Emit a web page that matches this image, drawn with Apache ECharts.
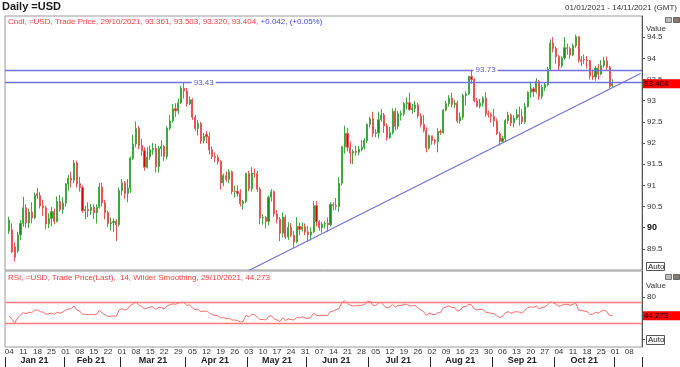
<!DOCTYPE html>
<html><head><meta charset="utf-8">
<script src="https://cdn.jsdelivr.net/npm/echarts@6/dist/echarts.min.js"></script>
<style>html,body{margin:0;padding:0;background:#fff}#c{width:680px;height:367px}</style>
</head><body><div id="c"></div>
<script>
// Daily candles [open, close, low, high]
const jan = [[89.92,90.18,89.85,90.26],[89.95,89.43,89.40,90.10],[89.55,89.30,89.20,89.65],[89.45,89.83,89.40,89.90],[89.83,90.10,89.70,90.18],[90.10,90.47,90.02,90.73],[90.47,90.11,90.00,90.55],[90.11,90.37,89.99,90.45],[90.37,90.23,90.10,90.60],[90.23,90.77,90.20,90.83],[90.80,90.76,90.68,90.94],[90.76,90.51,90.45,90.84],[90.51,90.47,90.28,90.66],[90.47,90.09,89.96,90.52],[90.09,90.22,89.99,90.34],[90.22,90.38,90.03,90.49],[90.38,90.15,90.08,90.45],[90.15,90.62,90.12,90.74],[90.62,90.43,90.38,90.77],[90.43,90.58,90.32,90.72]];
const feb = [[90.58,91.03,90.50,91.05],[91.03,91.17,90.88,91.25],[91.17,91.12,90.95,91.32],[91.12,91.53,91.05,91.60],[91.53,91.04,90.95,91.58],[91.04,90.95,90.85,91.20],[90.95,90.40,90.35,91.00],[90.40,90.43,90.20,90.52],[90.43,90.40,90.25,90.60],[90.40,90.48,90.30,90.56],[90.48,90.35,90.20,90.55],[90.35,90.48,90.10,90.55],[90.48,90.96,90.45,91.06],[90.96,90.59,90.50,91.06],[90.59,90.36,90.20,90.66],[90.36,90.10,90.02,90.40],[90.10,90.12,89.93,90.24],[90.12,90.15,89.90,90.22],[90.15,90.07,89.68,90.20],[90.07,90.88,90.03,90.95]];
const mar = [[90.88,91.06,90.76,91.15],[91.06,90.81,90.68,91.10],[90.81,90.93,90.60,91.15],[90.93,91.64,90.82,91.68],[91.64,91.98,91.60,92.20],[91.98,92.34,91.90,92.51],[92.34,91.94,91.85,92.40],[91.94,91.82,91.70,92.10],[91.82,91.43,91.35,91.90],[91.43,91.67,91.40,91.90],[91.67,91.84,91.60,91.94],[91.84,91.88,91.72,92.00],[91.88,91.44,91.30,91.98],[91.44,91.87,91.30,91.93],[91.87,91.92,91.68,92.06],[91.92,91.68,91.58,91.96],[91.68,92.35,91.62,92.40],[92.35,92.52,92.30,92.66],[92.52,92.81,92.48,92.92],[92.81,92.76,92.62,92.94],[92.76,92.95,92.68,93.05],[92.95,93.29,92.92,93.35],[93.29,93.23,93.05,93.43]];
const apr = [[93.23,92.93,92.86,93.30],[92.93,93.02,92.90,93.10],[93.02,92.61,92.55,93.06],[92.61,92.34,92.29,92.66],[92.34,92.46,92.18,92.54],[92.46,92.05,91.98,92.50],[92.05,92.16,91.99,92.24],[92.20,92.15,92.00,92.28],[92.15,91.84,91.73,92.25],[91.84,91.68,91.62,91.92],[91.68,91.66,91.55,91.78],[91.66,91.56,91.49,91.72],[91.56,91.06,90.90,91.60],[91.06,91.23,90.98,91.28],[91.23,91.14,91.08,91.33],[91.14,91.32,91.05,91.38],[91.32,90.85,90.79,91.35],[90.85,90.86,90.71,90.99],[90.86,90.81,90.73,91.00],[90.81,90.57,90.50,90.91],[90.57,90.62,90.42,90.66],[90.62,91.28,90.58,91.30]];
const may = [[91.28,90.92,90.86,91.34],[90.92,91.29,90.85,91.43],[91.29,91.28,91.18,91.40],[91.28,90.91,90.84,91.34],[90.91,90.23,90.08,90.96],[90.23,90.24,90.07,90.32],[90.24,90.15,89.98,90.28],[90.15,90.72,90.05,90.76],[90.72,90.85,90.62,90.91],[90.85,90.32,90.26,90.88],[90.32,90.20,90.10,90.42],[90.20,89.87,89.68,90.25],[89.87,90.25,89.77,90.36],[90.25,89.78,89.73,90.30],[89.78,90.01,89.71,90.13],[90.01,89.82,89.78,90.11],[89.82,89.67,89.53,89.92],[89.67,90.03,89.63,90.25],[90.03,89.96,89.82,90.12],[89.96,90.02,89.91,90.12],[90.02,89.90,89.82,90.10]];
const jun = [[89.90,89.83,89.66,90.04],[89.83,89.90,89.70,90.01],[89.90,90.52,89.87,90.63],[90.52,90.14,90.03,90.63],[90.14,90.00,89.93,90.18],[90.00,90.08,89.88,90.14],[90.08,90.10,89.98,90.15],[90.10,90.07,89.90,90.24],[90.07,90.55,90.03,90.60],[90.55,90.52,90.41,90.60],[90.52,90.50,90.42,90.70],[90.50,91.05,90.38,91.20],[91.05,91.91,91.00,91.93],[91.91,92.23,91.75,92.41],[92.23,91.90,91.80,92.35],[91.90,91.76,91.51,92.03],[91.76,91.80,91.50,91.85],[91.80,91.78,91.70,91.93],[91.78,91.85,91.71,91.93],[91.85,91.90,91.80,92.07],[91.90,92.06,91.85,92.12],[92.06,92.44,92.00,92.46]];
const jul = [[92.44,92.57,92.37,92.62],[92.57,92.23,92.14,92.74],[92.23,92.24,92.14,92.33],[92.24,92.55,92.11,92.74],[92.55,92.66,92.50,92.80],[92.66,92.40,92.24,92.71],[92.40,92.13,92.06,92.46],[92.13,92.24,92.10,92.38],[92.24,92.75,92.20,92.82],[92.75,92.39,92.30,92.83],[92.39,92.69,92.32,92.76],[92.66,92.69,92.53,92.76],[92.69,92.93,92.64,92.97],[92.93,92.95,92.79,93.07],[92.95,92.79,92.76,93.19],[92.79,92.82,92.69,92.92],[92.82,92.90,92.73,92.99],[92.90,92.64,92.58,92.95],[92.64,92.44,92.37,92.70],[92.44,92.30,92.25,92.66],[92.30,91.88,91.78,92.37],[91.88,92.17,91.85,92.20]];
const aug = [[92.17,92.06,91.96,92.17],[92.06,92.03,91.96,92.10],[92.03,92.27,91.78,92.35],[92.27,92.25,92.19,92.32],[92.25,92.78,92.22,92.80],[92.78,92.93,92.75,93.00],[92.93,93.06,92.86,93.13],[93.06,92.91,92.84,93.19],[92.91,92.94,92.83,93.02],[92.94,92.52,92.47,93.00],[92.52,92.61,92.46,92.72],[92.61,93.12,92.55,93.17],[93.12,93.16,92.89,93.22],[93.16,93.57,93.13,93.59],[93.57,93.50,93.40,93.73],[93.50,93.00,92.96,93.53],[93.00,92.87,92.84,93.06],[92.87,92.94,92.82,93.04],[92.94,93.06,92.86,93.10],[93.06,92.69,92.62,93.20],[92.69,92.67,92.60,92.77],[92.67,92.63,92.48,92.72]];
const sep = [[92.63,92.52,92.38,92.81],[92.52,92.22,92.19,92.58],[92.22,92.04,91.94,92.27],[92.04,92.11,92.01,92.17],[92.11,92.53,92.03,92.57],[92.53,92.66,92.45,92.74],[92.66,92.48,92.40,92.70],[92.48,92.59,92.37,92.66],[92.59,92.67,92.55,92.80],[92.67,92.62,92.41,92.86],[92.62,92.50,92.45,92.80],[92.50,92.86,92.45,92.95],[92.86,93.20,92.84,93.22],[93.20,93.28,93.07,93.45],[93.28,93.21,93.09,93.32],[93.21,93.46,93.17,93.53],[93.46,93.10,93.02,93.49],[93.10,93.31,93.04,93.38],[93.31,93.38,93.23,93.43],[93.38,93.75,93.34,93.80],[93.75,94.36,93.70,94.45],[94.36,94.23,94.14,94.50]];
const oct = [[94.23,94.04,93.87,94.28],[94.04,93.82,93.72,94.08],[93.82,94.01,93.78,94.05],[94.01,94.25,93.97,94.50],[94.25,94.23,94.09,94.35],[94.23,94.08,93.99,94.27],[94.08,94.30,94.05,94.35],[94.30,94.51,94.25,94.56],[94.51,93.96,93.90,94.52],[93.96,93.93,93.82,94.05],[93.97,93.96,93.87,94.09],[93.96,93.95,93.76,94.05],[93.95,93.58,93.50,93.96],[93.58,93.56,93.49,93.74],[93.56,93.77,93.47,93.82],[93.77,93.63,93.50,93.87],[93.63,93.83,93.60,93.96],[93.83,93.94,93.78,94.03],[93.94,93.79,93.73,94.04],[93.79,93.34,93.28,93.82],[93.361,93.404,93.320,93.503]];

// RSI(14) daily values
const rsiJan = [44,37,31,40,46,50,48,51,50,55,55,52,51,47,48,49,47,51,49,51];
const rsiFeb = [55,57,58,63,55,53,47,47,46,47,46,47,55,49,46,43,43,44,43,55];
const rsiMar = [58,55,57,64,67,71,64,62,57,59,61,61,56,60,60,57,63,65,67,66,68,70,69];
const rsiApr = [64,65,59,56,57,52,53,53,50,46,45,44,40,41,38,39,36,36,35,32,33,45];
const rsiMay = [42,47,46,42,37,37,36,43,44,38,36,33,40,35,38,37,36,41,40,42,40];
const rsiJun = [39,41,49,45,44,45,45,45,52,53,56,58,69,73,67,64,63,63,64,64,66,71];
const rsiJul = [72,64,64,68,70,63,59,61,66,61,64,64,66,66,63,63,64,59,55,52,45,49];
const rsiAug = [47,46,50,50,59,61,63,60,60,53,55,61,62,66,65,57,55,56,57,51,50,49];
const rsiSep = [48,44,41,43,50,52,49,51,52,51,49,55,60,61,60,63,57,60,61,65,71,69];
const rsiOct = [66,62,64,66,66,64,66,68,55,54,53,52,47,47,51,49,53,55,52,45,44.273];

// Annotations
const levels = [93.73, 93.43];
const levelLabelDates = ['2021-08-27', '2021-04-09'];
const trendLine = [['2021-05-03', 88.99], ['2021-11-12', 93.64]];
const lastPrice = 93.404;
const lastRsi = 44.273;
const rsiBands = [70, 30];
const priceLabelBold = 90;
const monthLabels = ['Jan 21','Feb 21','Mar 21','Apr 21','May 21','Jun 21','Jul 21','Aug 21','Sep 21','Oct 21'];

// Trading-day calendar (weekdays) 01/01/2021 - 12/11/2021
const dates = [];
for (let d = new Date(Date.UTC(2021,0,1)); d.getTime() <= Date.UTC(2021,10,12); d.setUTCDate(d.getUTCDate()+1)) {
  const wd = d.getUTCDay();
  if (wd === 0 || wd === 6) continue;
  dates.push(d.toISOString().slice(0,10));
}
const candles = ['-'].concat(jan,feb,mar,apr,may,jun,jul,aug,sep,oct);
const rsi = ['-'].concat(rsiJan,rsiFeb,rsiMar,rsiApr,rsiMay,rsiJun,rsiJul,rsiAug,rsiSep,rsiOct);

const monthOf = s => +s.slice(5,7);
const monthMid = {};
(function(){
  const first = {}, last = {};
  dates.forEach((s,i)=>{const m=monthOf(s); if(first[m]===undefined) first[m]=i; last[m]=i;});
  for (let m=1;m<=10;m++) monthMid[Math.floor((first[m]+last[m])/2)] = m;
})();

const FONT = 'Liberation Sans, Arial, sans-serif';
const blue = '#7272da';
const clear = 'rgba(0,0,0,0)';
const valueBox = (txt) => ({show: true, position: 'end', distance: 1, formatter: txt, color: '#000',
  backgroundColor: '#ff0000', padding: [1, 12, 0, 1], fontSize: 8, fontFamily: FONT});
const chart = echarts.init(document.getElementById('c'));
chart.setOption({
  animation: false,
  textStyle: {fontFamily: FONT, fontSize: 8},
  grid: [
    {left: 5, right: 38, top: 16, height: 254, show: true, borderColor: '#9a9a9a', borderWidth: 1},
    {left: 5, right: 38, top: 271, height: 76, show: true, borderColor: '#9a9a9a', borderWidth: 1}
  ],
  xAxis: [
    {type: 'category', gridIndex: 0, data: dates, show: false},
    {type: 'category', gridIndex: 1, data: dates,
      axisLine: {show: false}, axisTick: {show: false}, splitLine: {show: false},
      axisLabel: {margin: 1, fontSize: 8, color: '#333', fontFamily: FONT,
        interval: (i, v) => new Date(v + 'T00:00:00Z').getUTCDay() === 1,
        formatter: v => v.slice(8,10)}},
    {type: 'category', gridIndex: 1, data: dates, position: 'bottom', offset: 10,
      axisLine: {show: false}, splitLine: {show: false},
      axisTick: {show: true, length: 11, lineStyle: {color: '#222', width: 1},
        interval: (i, v) => i === 0 || monthOf(v) !== monthOf(dates[i-1])},
      axisLabel: {margin: -1, fontSize: 9, fontWeight: 'bold', color: '#222', fontFamily: FONT,
        interval: (i) => monthMid[i] !== undefined,
        formatter: (v) => monthLabels[monthOf(v)-1] || ''}}
  ],
  yAxis: [
    {type: 'value', gridIndex: 0, position: 'right', min: 89, max: 95, interval: 0.5,
      splitLine: {show: false},
      axisLine: {show: true, lineStyle: {color: '#555'}},
      axisTick: {show: true, length: 3, lineStyle: {color: '#555'}},
      axisLabel: {margin: 5, fontSize: 8, color: '#333', fontFamily: FONT, showMinLabel: false, showMaxLabel: false,
        formatter: v => v === priceLabelBold ? '{b|' + v + '}' : String(v),
        rich: {b: {fontWeight: 'bold', fontSize: 9, color: '#111', fontFamily: FONT}}},
      name: 'Value', nameLocation: 'end', nameGap: -15,
      nameTextStyle: {align: 'left', verticalAlign: 'middle', padding: [0,0,0,4], fontSize: 8, color: '#333', fontFamily: FONT}},
    {type: 'value', gridIndex: 1, position: 'right', min: -15.6, max: 129.7,
      splitLine: {show: false},
      axisLine: {show: true, lineStyle: {color: '#555'}},
      axisTick: {show: true, length: 3, lineStyle: {color: '#555'}, customValues: [0, 40, 80]},
      axisLabel: {margin: 5, fontSize: 8, color: '#333', fontFamily: FONT, customValues: [40, 80]},
      name: 'Value', nameLocation: 'end', nameGap: -15,
      nameTextStyle: {align: 'left', verticalAlign: 'middle', padding: [0,0,0,4], fontSize: 8, color: '#333', fontFamily: FONT}}
  ],
  series: [
    {type: 'candlestick', xAxisIndex: 0, yAxisIndex: 0, data: candles, barWidth: 1.6,
      itemStyle: {color: '#14901a', color0: '#dc0000', borderColor: '#3ea83e', borderColor0: '#ec5252', borderWidth: 1},
      markLine: {silent: true, symbol: ['none','none'], animation: false,
        data: [
          {yAxis: levels[0], lineStyle: {color: blue, width: 1.3, type: 'solid'}, label: {show: false}},
          {yAxis: levels[1], lineStyle: {color: blue, width: 1.3, type: 'solid'}, label: {show: false}},
          {yAxis: lastPrice, lineStyle: {color: clear, width: 1, type: 'solid'}, label: valueBox('93.404')}
        ]},
      markPoint: {silent: true, symbol: 'rect', symbolSize: 1, itemStyle: {color: clear},
        label: {show: true, position: 'inside', color: '#5c5cc8', backgroundColor: '#fff', padding: [0, 2], fontSize: 8, fontFamily: FONT,
          formatter: p => p.value.toFixed(2)},
        data: [
          {coord: [levelLabelDates[0], levels[0]], value: levels[0]},
          {coord: [levelLabelDates[1], levels[1]], value: levels[1]}
        ]}
    },
    {type: 'line', xAxisIndex: 0, yAxisIndex: 0, data: trendLine, symbol: 'none', silent: true,
      lineStyle: {color: blue, width: 1.2}, z: 3},
    {type: 'line', xAxisIndex: 1, yAxisIndex: 1, data: rsi, symbol: 'none',
      lineStyle: {color: '#ff6a6a', width: 1},
      markLine: {silent: true, symbol: ['none','none'], animation: false,
        data: [
          {yAxis: rsiBands[0], lineStyle: {color: '#ff7a7a', width: 1.3, type: 'solid'}, label: {show: false}},
          {yAxis: rsiBands[1], lineStyle: {color: '#ff7a7a', width: 1.3, type: 'solid'}, label: {show: false}},
          {yAxis: lastRsi, lineStyle: {color: clear, width: 1, type: 'solid'}, label: valueBox('44.273')}
        ]}
    }
  ],
  graphic: [
    {type: 'text', left: 2, top: 1, style: {text: 'Daily =USD', font: 'bold 11px ' + FONT, fill: '#1a1a1a'}},
    {type: 'text', right: 3, top: 4, style: {text: '01/01/2021 - 14/11/2021 (GMT)', font: '8px ' + FONT, fill: '#333'}},
    {type: 'text', left: 8, top: 18, style: {
      text: '{r|Cndl, =USD, Trade Price, 29/10/2021, 93.361, 93.503, 93.320, 93.404, }{b|+0.042, (+0.05%)}',
      rich: {r: {fill: '#ff3b3b', font: '8px ' + FONT}, b: {fill: '#4545ff', font: '8px ' + FONT}}}},
    {type: 'text', left: 8, top: 274, style: {text: 'RSI, =USD, Trade Price(Last),  14, Wilder Smoothing, 29/10/2021, 44.273', font: '8px ' + FONT, fill: '#ff3b3b'}},
    {type: 'group', left: 646, top: 262, children: [
      {type: 'rect', shape: {x: 0, y: 0, width: 18, height: 8}, style: {fill: '#fff', stroke: '#555', lineWidth: 1}},
      {type: 'text', x: 1.5, y: 0, style: {text: 'Auto', font: '8px ' + FONT, fill: '#222'}}]},
    {type: 'group', left: 646, top: 335, children: [
      {type: 'rect', shape: {x: 0, y: 0, width: 18, height: 9}, style: {fill: '#fff', stroke: '#555', lineWidth: 1}},
      {type: 'text', x: 1.5, y: 0.5, style: {text: 'Auto', font: '8px ' + FONT, fill: '#222'}}]},
    {type: 'group', left: 665, top: 17, children: [
      {type: 'rect', shape: {x: 0, y: 0, width: 6, height: 5}, style: {fill: '#bbb', stroke: '#777', lineWidth: 1}},
      {type: 'rect', shape: {x: 8, y: 0, width: 6, height: 5}, style: {fill: '#8a7a70', stroke: '#666', lineWidth: 1}}]},
    {type: 'group', left: 665, top: 274, children: [
      {type: 'rect', shape: {x: 0, y: 0, width: 6, height: 5}, style: {fill: '#bbb', stroke: '#777', lineWidth: 1}},
      {type: 'rect', shape: {x: 8, y: 0, width: 6, height: 5}, style: {fill: '#8a7a70', stroke: '#666', lineWidth: 1}}]}
  ]
});
</script>
</body></html>
